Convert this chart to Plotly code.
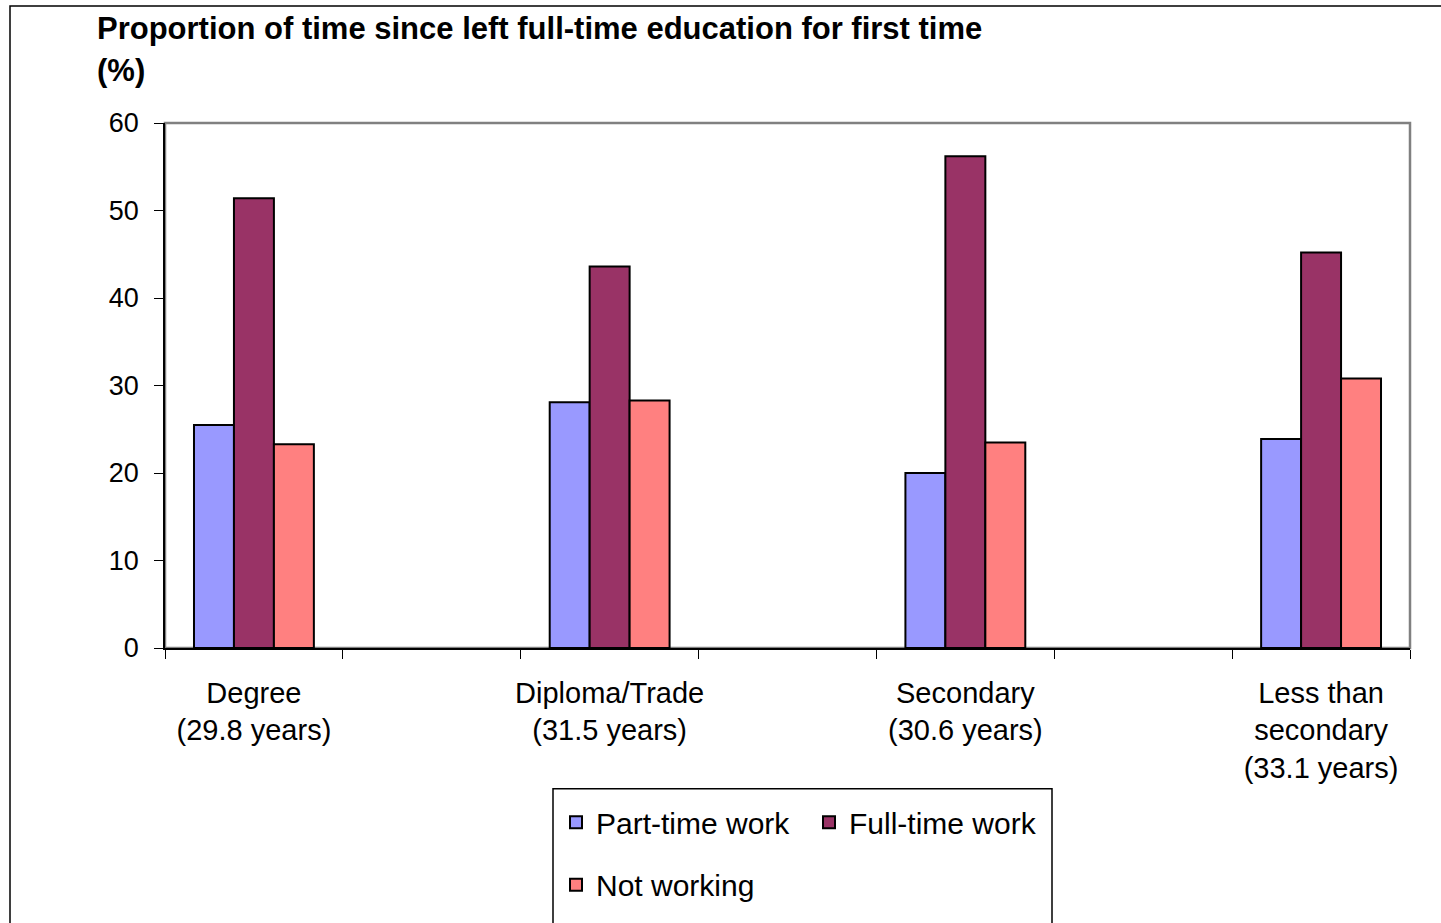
import plotly.graph_objects as go

# Education groups (average years since leaving full-time education in brackets)
categories = [
    "Degree<br>(29.8 years)",
    " ",
    "Diploma/Trade<br>(31.5 years)",
    "  ",
    "Secondary<br>(30.6 years)",
    "   ",
    "Less than<br>secondary<br>(33.1 years)",
]
groups = [categories[0], categories[2], categories[4], categories[6]]

part_time = [25.5, 28.1, 20.0, 23.9]
full_time = [51.4, 43.6, 56.2, 45.2]
not_working = [23.3, 28.3, 23.5, 30.8]

series_names = ["Part-time work", "Full-time work", "Not working"]
series_colors = ["#9999FF", "#993366", "#FF8080"]
series_values = [part_time, full_time, not_working]
series_legends = ["legend", "legend", "legend2"]

FONT = "Liberation Sans, Arial, sans-serif"

fig = go.Figure()
for name, color, vals, lg in zip(series_names, series_colors, series_values, series_legends):
    fig.add_trace(go.Bar(
        x=groups, y=vals, name=name,
        marker=dict(color=color, line=dict(color="black", width=2)),
        legend=lg,
    ))

W, H = 1441, 923
L, R, T, B = 165, 31, 123, 270
pw, ph = W - L - R, H - T - B


def px_x(x):
    return (x - L) / pw


def px_y(y):
    return (H - B - y) / ph


fig.update_layout(
    width=W, height=H,
    margin=dict(l=L, r=R, t=T, b=B, pad=0),
    paper_bgcolor="white", plot_bgcolor="white",
    barmode="group", bargap=0.326, bargroupgap=0,
    font=dict(family=FONT, color="black", size=27),
    showlegend=True,
    legend=dict(
        orientation="h", x=px_x(556), y=px_y(829), xanchor="left", yanchor="middle",
        font=dict(size=30), bgcolor="rgba(0,0,0,0)", borderwidth=0,
        entrywidth=208, entrywidthmode="pixels", itemclick=False,
    ),
    legend2=dict(
        orientation="h", x=px_x(556), y=px_y(892), xanchor="left", yanchor="middle",
        font=dict(size=30), bgcolor="rgba(0,0,0,0)", borderwidth=0,
    ),
    xaxis=dict(
        type="category", categoryorder="array", categoryarray=categories,
        range=[-0.5, len(categories) - 0.5],
        tickson="boundaries", ticks="outside", ticklen=9, tickcolor="black", tickwidth=1,
        showline=True, linecolor="black", linewidth=1.5,
        showgrid=False, zeroline=False, ticklabelstandoff=18,
        tickangle=0, automargin=False,
        tickfont=dict(size=29),
    ),
    yaxis=dict(
        range=[0, 60], dtick=10, ticks="outside", ticklen=9, tickcolor="black", tickwidth=1,
        showline=True, linecolor="black", linewidth=1.5,
        showgrid=False, zeroline=False, ticklabelstandoff=10, automargin=False,
        tickfont=dict(size=27),
    ),
    shapes=[
        # plot area frame (top and right edges)
        dict(type="rect", xref="paper", yref="paper", x0=0, x1=1, y0=0, y1=1,
             line=dict(color="#808080", width=2.5), layer="below"),
        # outer chart border
        dict(type="rect", xref="paper", yref="paper",
             x0=px_x(10), x1=px_x(1500), y0=px_y(1000), y1=px_y(5),
             line=dict(color="black", width=1.5), layer="below"),
        # legend box
        dict(type="rect", xref="paper", yref="paper",
             x0=px_x(553), x1=px_x(1052), y0=px_y(1000), y1=px_y(795),
             line=dict(color="black", width=1.5), layer="below"),
    ],
    annotations=[
        dict(text="<b>Proportion of time since left full-time education for first time</b>",
             xref="paper", yref="paper", x=px_x(95), y=px_y(28),
             xanchor="left", yanchor="middle", showarrow=False, font=dict(size=31)),
        dict(text="<b>(%)</b>",
             xref="paper", yref="paper", x=px_x(95), y=px_y(70),
             xanchor="left", yanchor="middle", showarrow=False, font=dict(size=31)),
    ],
)

fig.write_html("out.html")
